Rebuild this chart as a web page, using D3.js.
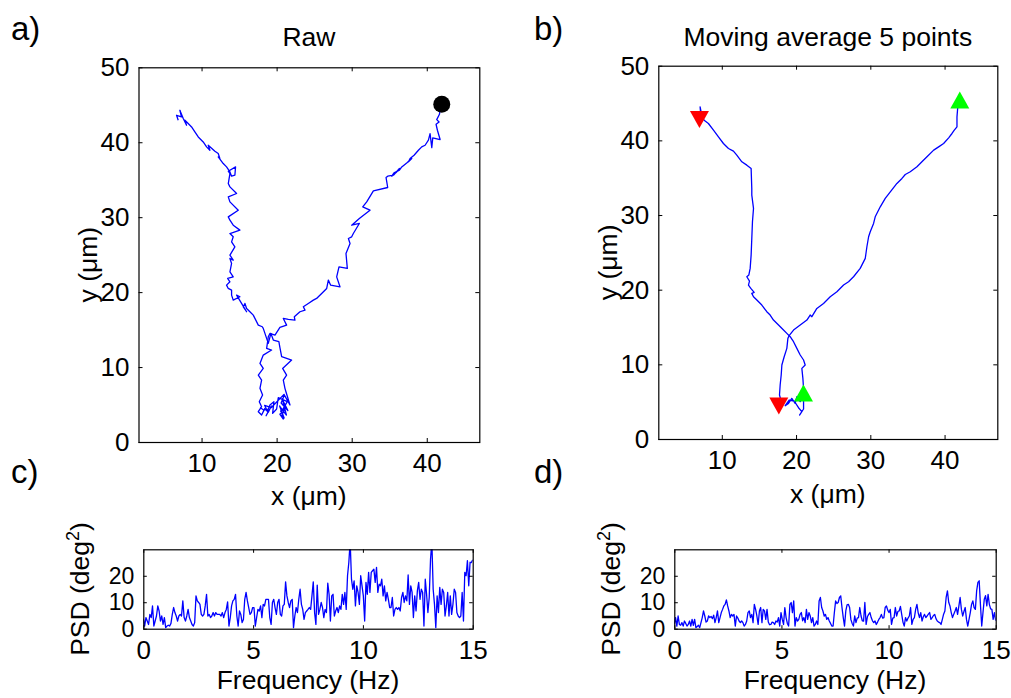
<!DOCTYPE html>
<html>
<head>
<meta charset="utf-8">
<script src="https://cdn.jsdelivr.net/npm/d3@7"></script>
<style>
  body { margin: 0; background: #fff; }
  svg text { font-family: "Liberation Sans", Arial, Helvetica, sans-serif; fill: #000; }
</style>
</head>
<body>
<svg id="fig" width="1011" height="698"></svg>
<script>
// ---- trajectory data (µm) ----
// raw track 1: starts top right, runs down the right arm to the lower-left end
const rawTrack1 = [
  [42.0,45.07],[41.91,45.16],[41.69,43.73],[41.33,43.02],[41.64,42.71],[41.24,42.40],[41.42,41.60],[41.78,40.36],
  [40.80,40.58],[40.67,39.29],[40.44,41.16],[40.22,40.27],[39.78,39.60],[39.33,39.38],[38.89,38.93],[38.31,38.27],
  [37.78,37.82],[37.56,37.38],[38.0,37.82],[37.33,37.24],[36.67,36.71],[36.36,36.27],[35.64,35.91],[35.33,35.47],
  [36.0,36.04],[36.36,36.49],[35.56,35.6],[34.8,35.47],[34.58,35.29],[34.8,33.96],[32.89,33.51],[32.0,32.04],
  [31.47,31.38],[32.44,30.93],[31.02,29.82],[30.0,28.93],[31.02,29.16],[30.22,27.82],[30.0,27.38],[29.56,27.16],
  [29.78,26.49],[29.24,25.16],[29.42,23.16],[28.31,23.38],[28.0,22.04],[28.44,20.71],[27.2,20.93],[26.89,21.6],
  [26.67,20.49],[26.0,19.82],[25.56,19.38],[25.33,19.16],[24.89,18.93],[24.22,18.49],[23.56,18.04],[23.78,17.6],
  [23.11,17.38],[22.36,16.71],[22.44,16.27],[21.56,16.36],[20.89,16.49],[21.33,15.6],[20.44,15.29],[19.78,14.27],
  [19.11,14.49],[18.89,14.04],[18.67,12.49],[19.33,12.27],[18.22,11.6],[17.78,10.49],[18.22,9.82],[17.56,8.93],
  [18.0,8.27],[17.78,7.16],[18.13,6.27],[17.69,5.38],[18.0,4.71],[17.56,4.04],[18.0,3.6],[18.44,4.49],
  [18.89,3.96],[19.3,4.8],[18.6,3.5],[19.0,4.3],[18.22,4.3],[17.8,4.6]
];
// raw track 2: starts in the lower cluster, climbs through the crossing and up the left arm
const rawTrack2 = [
  [21.0,6.2],[20.6,5.2],[21.5,4.2],[20.8,5.6],[21.3,3.6],[20.4,4.8],[21.0,3.2],
  [20.53,4.13],[21.16,4.58],[20.67,3.51],[20.89,3.07],[20.44,3.69],[21.42,5.38],[20.22,5.91],
  [20.0,4.4],[19.47,3.82],[19.64,5.38],[19.11,4.93],[18.76,4.13],[18.4,4.9],[19.3,4.6],[20.98,6.36],
  [21.78,4.93],[21.24,6.71],[21.11,7.16],[20.89,8.27],[21.33,8.93],[20.8,9.82],[22.0,10.93],[20.67,11.38],
  [20.44,12.6],[20.3,13.4],[19.56,13.6],[19.24,14.49],[18.89,13.16],[18.22,15.16],[18.09,15.38],[17.56,15.6],
  [16.89,16.93],[16.44,17.38],[16.0,17.82],[15.78,18.49],[15.56,18.04],[16.0,17.38],[15.33,18.49],[14.67,19.6],
  [15.11,19.38],[14.22,18.93],[14.0,19.6],[14.0,20.27],[13.56,20.49],[13.33,20.93],[13.78,21.38],[13.47,21.82],
  [14.22,22.04],[13.78,22.71],[14.0,23.82],[13.78,24.49],[14.22,24.27],[13.78,24.93],[14.44,26.04],[14.0,26.71],
  [14.22,27.38],[13.78,27.82],[15.11,28.27],[14.22,28.93],[13.78,29.6],[13.56,30.04],[14.89,30.93],[13.78,32.04],
  [13.56,32.71],[14.67,33.16],[13.78,34.04],[13.56,34.49],[13.78,35.82],[13.56,36.13],[14.53,36.71],[14.44,35.6],
  [14.0,35.47],[13.78,36.04],[13.33,36.71],[12.89,37.16],[12.22,38.04],[12.44,37.82],[12.22,38.49],[11.78,38.8],
  [10.89,39.6],[11.11,38.93],[10.67,39.38],[10.22,40.04],[9.56,40.71],[9.11,41.38],[8.67,42.04],[8.22,42.49],
  [7.78,42.93],[8.0,42.27],[7.56,43.16],[7.11,44.27],[7.33,43.38],[6.67,43.6],[6.89,42.93]
];
// 5-point moving average of the two tracks
const smoothTrack1 = [
  [42.05,45.4],[41.76,44.27],[41.67,43.15],[41.67,41.81],[41.31,41.37],[41.0,40.92],[40.55,40.34],[39.87,39.58],
  [39.2,39.13],[38.53,38.69],[37.63,37.8],[36.95,37.13],[36.28,36.46],[35.38,35.79],[34.71,35.43],[34.26,34.9],
  [33.58,34.23],[32.69,33.11],[32.01,32.22],[31.34,31.1],[30.66,29.76],[30.44,28.87],[29.99,27.76],[29.77,27.09],
  [29.54,25.75],[29.32,24.19],[28.64,22.85],[27.74,21.73],[27.07,21.06],[26.4,20.62],[25.5,19.72],[24.6,19.05],
  [23.7,18.16],[22.8,17.49],[22.13,16.38],[21.9,16.6],[21.46,15.93],[20.56,15.26],[19.66,14.59],[19.12,13.92],
  [18.9,13.48],[18.76,12.14],[18.4,11.02],[18.09,9.91],[18.0,8.57],[17.86,7.23],[17.77,5.89],[17.95,5.22],
  [17.68,4.42]
];
const smoothTrack2 = [
  [21.0,6.16],[20.56,5.0],[20.11,5.67],[19.88,4.77],[19.43,5.44],[18.98,4.77],[18.54,4.46],[19.07,5.22],
  [19.75,5.09],[20.33,4.19],[20.78,3.66],[20.47,3.21],[21.01,4.02],[21.01,6.78],[20.92,8.12],[20.78,9.46],
  [21.23,9.91],[21.01,10.58],[20.56,11.25],[20.11,12.14],[19.66,13.03],[19.21,13.7],[18.76,14.15],[18.31,14.59],
  [17.64,15.26],[16.96,15.93],[16.51,16.6],[16.06,17.05],[15.39,17.94],[14.72,18.61],[14.27,19.05],[14.04,19.5],
  [14.36,19.63],[13.91,20.17],[13.59,20.62],[13.73,21.15],[13.37,21.73],[13.64,21.95],[13.82,22.85],[13.95,24.63],
  [14.04,26.86],[14.13,29.09],[14.27,30.88],[14.04,32.66],[14.04,33.56],[13.95,36.23],[13.37,36.68],[12.7,37.13],
  [12.02,38.02],[11.57,38.55],[10.9,38.91],[10.22,39.58],[9.55,40.47],[8.88,41.37],[8.2,42.26],[7.62,42.7],
  [7.3,43.37],[7.08,44.49],[7.17,43.4],[6.99,42.79]
];

// ---- power spectral density of the heading angle (deg^2), 0–15 Hz ----
const psdFreqMax = 15;
const psdRaw = [
  3.8,1.0,4.2,2.9,1.6,5.4,4.2,8.6,1.0,2.9,
  4.8,8.6,6.7,2.9,4.8,1.6,4.2,0.4,1.0,1.3,
  1.0,2.0,5.4,8.0,6.1,4.8,2.9,4.8,5.4,4.8,
  10.5,4.2,2.9,4.8,7.3,4.2,2.9,1.6,1.0,2.3,
  12.4,10.5,9.9,9.2,5.4,4.8,5.4,8.6,13.0,4.8,
  5.4,4.2,4.8,6.1,4.8,6.1,5.4,5.4,5.4,4.8,
  6.1,4.2,6.1,7.3,10.1,1.0,4.2,8.6,10.5,11.1,
  13.0,4.8,1.0,6.7,5.4,2.3,3.5,11.1,13.7,10.5,
  8.0,5.4,6.1,8.0,8.0,1.0,4.2,7.3,6.7,8.6,
  4.2,9.2,8.6,11.1,11.1,11.1,4.2,1.6,9.9,11.1,
  8.0,5.4,9.9,11.1,5.4,4.8,8.6,9.2,17.7,12.4,
  9.9,8.0,10.5,11.1,0.4,4.8,8.0,6.1,11.1,14.9,
  9.2,7.3,3.5,6.1,6.7,7.3,8.0,7.3,12.4,17.7,
  6.1,1.6,16.5,5.4,7.3,9.9,8.0,4.2,7.3,6.1,
  17.2,13.0,2.9,12.4,13.0,4.8,6.7,8.0,6.1,8.6,
  7.3,13.0,9.2,13.7,7.3,20.0,25.1,33.0,18.7,14.9,
  18.1,8.6,16.2,13.7,9.2,20.0,16.2,12.4,2.9,17.5,
  13.0,21.3,13.7,21.3,21.9,22.5,17.5,23.2,13.7,16.8,
  16.2,18.7,12.4,16.2,10.5,13.7,11.1,8.0,8.0,11.8,
  4.8,7.3,8.0,7.3,8.0,6.7,11.8,13.7,9.9,12.4,
  10.5,20.3,9.2,16.2,13.7,4.2,12.4,6.7,14.3,17.5,
  11.1,14.9,13.7,1.0,18.7,13.0,6.1,11.8,26.3,33.0,
  14.9,9.2,0.4,12.4,6.1,15.6,9.2,14.9,13.7,4.8,
  8.6,13.7,4.8,12.4,5.4,9.2,14.9,13.7,6.1,4.8,
  4.2,4.8,13.7,2.9,21.3,20.0,25.7,16.2,25.1,25.0,
  26.0
];
const psdSmooth = [
  1.6,4.2,1.0,4.8,1.6,1.3,2.3,1.0,2.9,2.0,
  1.0,1.6,2.9,1.0,3.5,1.3,3.5,0.4,0.8,1.3,
  0.4,2.3,4.2,6.7,4.8,2.5,2.9,4.8,4.2,4.6,
  3.8,5.1,2.3,4.2,6.7,2.3,4.2,6.1,7.3,8.6,
  9.2,10.9,8.6,6.7,4.2,5.4,4.8,5.4,1.0,4.8,
  4.0,2.9,2.3,2.9,2.3,1.0,1.6,2.9,6.1,6.7,
  4.2,5.4,2.3,9.2,7.3,4.8,1.6,6.7,8.0,2.3,
  7.3,6.7,3.5,7.3,2.5,1.5,1.6,2.5,2.3,1.6,
  2.9,2.5,4.2,1.0,6.1,3.5,1.6,8.0,4.2,2.0,
  1.0,9.2,9.9,6.1,10.5,1.0,4.2,2.9,3.5,5.4,
  6.1,3.0,4.2,2.3,7.3,3.5,6.1,4.8,2.3,4.2,
  1.0,1.6,2.9,1.6,10.5,11.8,8.0,6.7,4.8,5.4,
  3.5,4.2,2.9,2.0,1.0,
  1.0,6.1,10.5,9.5,9.9,11.8,12.4,8.0,4.2,1.0,
  6.7,9.0,9.2,8.0,3.5,2.0,1.0,4.8,2.3,4.0,
  4.2,8.0,4.8,3.0,2.9,9.9,1.6,4.5,5.4,6.1,
  4.2,3.0,2.3,2.9,1.6,2.5,3.5,4.2,5.4,4.0,
  4.2,8.0,8.6,7.0,6.1,7.3,1.6,4.0,4.2,8.0,
  4.8,6.5,6.7,8.4,5.4,2.5,1.0,4.2,2.9,4.0,
  4.8,8.0,1.6,3.5,4.2,7.3,9.2,6.0,4.2,6.1,
  2.9,4.5,5.4,4.2,4.8,5.5,6.1,3.5,4.2,5.0,
  5.4,3.8,2.9,2.5,2.3,1.6,3.5,5.5,6.7,11.8,
  14.3,10.0,8.6,6.1,4.2,5.5,6.7,8.0,5.4,8.5,
  11.8,7.3,4.8,6.5,8.0,3.5,1.0,3.5,6.1,9.2,
  10.5,8.0,7.3,14.3,17.5,18.1,9.0,1.0,6.1,11.1,
  12.5,8.6,13.0,9.2,7.5,7.3,3.5,6.1,3.0
];

// ---- ticks ----
const trajXTicks = [10, 20, 30, 40];
const trajYTicks = [0, 10, 20, 30, 40, 50];
const psdXTicks = [0, 5, 10, 15];
const psdYTicks = [0, 10, 20];

const svg = d3.select("#fig");
const FONT = '"Liberation Sans", Arial, Helvetica, sans-serif';
const BLUE = "#0000ff";
const TICK_FONT = 26;
const LABEL_FONT = 26.5;
let clipCount = 0;

function makePanel(box, xDom, yDom, xTicks, yTicks, tickLen, yTickFont) {
  const x = d3.scaleLinear().domain(xDom).range([box.left, box.right]);
  const y = d3.scaleLinear().domain(yDom).range([box.bottom, box.top]);
  const g = svg.append("g");
  const id = "clip" + (clipCount++);
  g.append("clipPath").attr("id", id).append("rect")
    .attr("x", box.left).attr("y", box.top)
    .attr("width", box.right - box.left).attr("height", box.bottom - box.top);
  const plot = g.append("g").attr("clip-path", `url(#${id})`);

  const style = size => sel => {
    sel.attr("font-size", size).attr("font-family", FONT);
    sel.select(".domain").remove();
    sel.selectAll(".tick line").attr("stroke", "#000").attr("stroke-width", 1);
  };
  g.append("g").attr("transform", `translate(0,${box.bottom})`)
    .call(d3.axisBottom(x).tickValues(xTicks).tickSize(-tickLen).tickSizeOuter(0).tickPadding(12).tickFormat(d3.format("d")))
    .call(style(TICK_FONT));
  g.append("g").attr("transform", `translate(0,${box.top})`)
    .call(d3.axisTop(x).tickValues(xTicks).tickSize(-tickLen).tickSizeOuter(0).tickFormat(""))
    .call(style(TICK_FONT));
  g.append("g").attr("transform", `translate(${box.left},0)`)
    .call(d3.axisLeft(y).tickValues(yTicks).tickSize(-tickLen).tickSizeOuter(0).tickPadding(9).tickFormat(d3.format("d")))
    .call(style(yTickFont));
  g.append("g").attr("transform", `translate(${box.right},0)`)
    .call(d3.axisRight(y).tickValues(yTicks).tickSize(-tickLen).tickSizeOuter(0).tickFormat(""))
    .call(style(yTickFont));
  g.append("rect")
    .attr("x", box.left + 0.5).attr("y", box.top + 0.5)
    .attr("width", box.right - box.left).attr("height", box.bottom - box.top)
    .attr("fill", "none").attr("stroke", "#000").attr("stroke-width", 1.2);
  return { g, plot, x, y, box };
}

function text(str, x, y, size, anchor) {
  return svg.append("text").attr("x", x).attr("y", y)
    .attr("font-size", size).attr("text-anchor", anchor || "start").text(str);
}

function yLabel(p, cx, dyCenter, parts) {
  const cy = (p.box.top + p.box.bottom) / 2 + dyCenter;
  const t = svg.append("text")
    .attr("transform", `translate(${cx},${cy}) rotate(-90)`)
    .attr("text-anchor", "middle").attr("font-size", LABEL_FONT);
  parts(t);
  return t;
}

function triangle(w, h, up) {
  return up
    ? `M0,${-h / 2}L${w / 2},${h / 2}L${-w / 2},${h / 2}Z`
    : `M0,${h / 2}L${w / 2},${-h / 2}L${-w / 2},${-h / 2}Z`;
}

// ---- panel a: raw trajectory ----
const pa = makePanel({ left: 138.5, right: 479.3, top: 67.3, bottom: 442 },
  [1.6, 47.0], [0, 50], trajXTicks, trajYTicks, 4, TICK_FONT);
const lineA = d3.line().x(d => pa.x(d[0])).y(d => pa.y(d[1]));
[rawTrack1, rawTrack2].forEach(tr =>
  pa.plot.append("path").attr("d", lineA(tr))
    .attr("fill", "none").attr("stroke", BLUE).attr("stroke-width", 1.3).attr("stroke-linejoin", "round"));
pa.plot.append("circle")
  .attr("cx", pa.x(rawTrack1[0][0])).attr("cy", pa.y(rawTrack1[0][1]))
  .attr("r", 8.5).attr("fill", "#000");

// ---- panel b: smoothed trajectory ----
const pb = makePanel({ left: 658.3, right: 997.3, top: 65.7, bottom: 439 },
  [1.45, 47.1], [0, 50], trajXTicks, trajYTicks, 4, TICK_FONT);
const lineB = d3.line().x(d => pb.x(d[0])).y(d => pb.y(d[1]));
[smoothTrack1, smoothTrack2].forEach(tr =>
  pb.plot.append("path").attr("d", lineB(tr))
    .attr("fill", "none").attr("stroke", BLUE).attr("stroke-width", 1.3).attr("stroke-linejoin", "round"));
[smoothTrack1, smoothTrack2].forEach(tr => {
  const s = tr[0], e = tr[tr.length - 1];
  pb.g.append("path").attr("d", triangle(19, 17, true))
    .attr("transform", `translate(${pb.x(s[0])},${pb.y(s[1])})`).attr("fill", "#00ff00");
  pb.g.append("path").attr("d", triangle(19, 17, false))
    .attr("transform", `translate(${pb.x(e[0])},${pb.y(e[1])})`).attr("fill", "#ff0000");
});

// ---- panels c, d: PSD ----
function psdPanel(box, values) {
  const p = makePanel(box, [0, psdFreqMax], [0, 30], psdXTicks, psdYTicks, 3.5, 23);
  const step = psdFreqMax / (values.length - 1);
  const line = d3.line().x((d, i) => p.x(i * step)).y(d => p.y(d));
  p.plot.append("path").attr("d", line(values))
    .attr("fill", "none").attr("stroke", BLUE).attr("stroke-width", 1.3).attr("stroke-linejoin", "round");
  return p;
}
const pc = psdPanel({ left: 143.3, right: 472.7, top: 549.3, bottom: 628.7 }, psdRaw);
const pd = psdPanel({ left: 674.3, right: 995.7, top: 549.3, bottom: 628.7 }, psdSmooth);

// ---- titles, labels, panel letters ----
text("Raw", (pa.box.left + pa.box.right) / 2, 46, LABEL_FONT, "middle");
text("Moving average 5 points", (pb.box.left + pb.box.right) / 2, 46, LABEL_FONT, "middle");
text("x (\u03bcm)", (pa.box.left + pa.box.right) / 2, 505, LABEL_FONT, "middle");
text("x (\u03bcm)", (pb.box.left + pb.box.right) / 2, 503, LABEL_FONT, "middle");
text("Frequency (Hz)", (pc.box.left + pc.box.right) / 2, 689, LABEL_FONT, "middle");
text("Frequency (Hz)", (pd.box.left + pd.box.right) / 2, 689, LABEL_FONT, "middle");

yLabel(pa, 97, 10, t => t.text("y (\u03bcm)"));
yLabel(pb, 617, 10, t => t.text("y (\u03bcm)"));
const psdLabel = t => {
  t.append("tspan").text("PSD (deg");
  t.append("tspan").attr("dy", -10).attr("font-size", 18).text("2");
  t.append("tspan").attr("dy", 10).text(")");
};
yLabel(pc, 89, 0, psdLabel);
yLabel(pd, 620, 0, psdLabel);

text("a)", 11, 40, 33);
text("b)", 534, 40, 33);
text("c)", 11, 483, 33);
text("d)", 534, 483, 33);
</script>
</body>
</html>
